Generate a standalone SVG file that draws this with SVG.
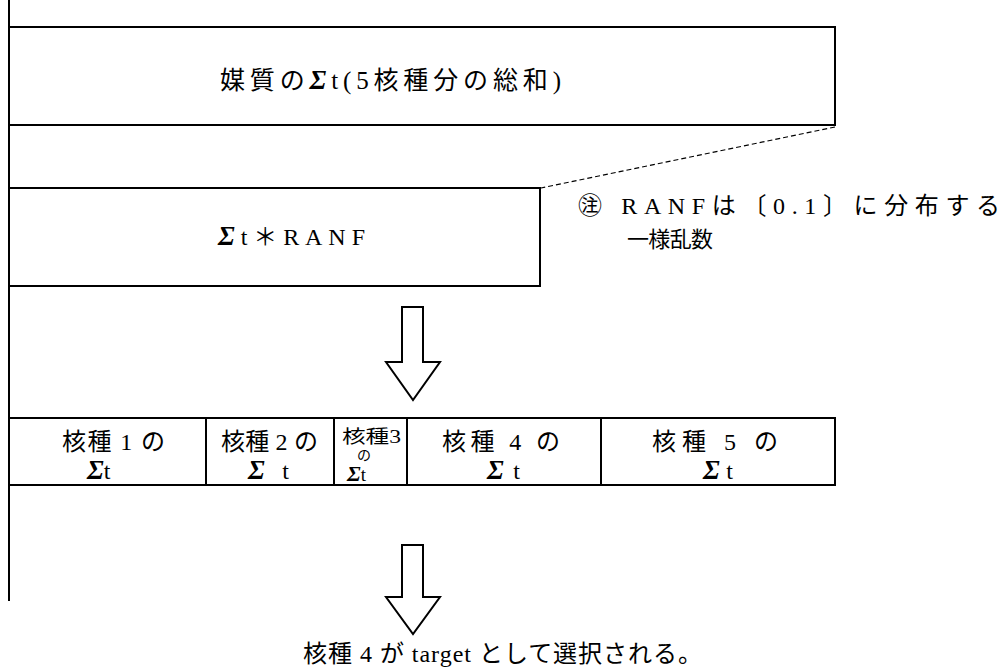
<svg xmlns="http://www.w3.org/2000/svg" width="1002" height="667" viewBox="0 0 1002 667">
<style>
.box{fill:none;stroke:#000;stroke-width:2}
.t{font-family:"Liberation Serif","Noto Sans CJK JP",serif;font-size:24px;fill:#000}
.s{font-style:italic;font-weight:bold;font-size:27px}
.arrow{fill:#fff;stroke:#000;stroke-width:2;stroke-linejoin:miter}
</style>
<rect width="1002" height="667" fill="#fff"/>
<g id="frame"><line x1="9" y1="0" x2="9" y2="601" stroke="#000" stroke-width="2"/></g>
<g id="total">
<rect class="box" x="9" y="27" width="826" height="98"/>
<text class="t" x="220" y="89" style="font-size:25px" textLength="341" lengthAdjust="spacing">媒質の<tspan class="s">Σ</tspan>t(5核種分の総和)</text>
</g>
<g id="ranf">
<rect class="box" x="9" y="188" width="531" height="98"/>
<text class="t" x="218" y="245" textLength="147" lengthAdjust="spacing"><tspan class="s">Σ</tspan>t＊RANF</text>
</g>
<g id="note">
<text class="t" x="578" y="214" textLength="422" lengthAdjust="spacing">㊟ RANFは〔0.1〕に分布する</text>
<text class="t" x="627" y="247" style="font-size:22px" textLength="86" lengthAdjust="spacing">一様乱数</text>
</g>
<g id="n1">
<rect class="box" x="9" y="418" width="197" height="67"/>
<text class="t" x="62" y="450" textLength="103" lengthAdjust="spacing">核種 1 の</text>
<text class="t" x="87" y="479"><tspan class="s">Σ</tspan>t</text>
</g>
<g id="n2">
<rect class="box" x="206" y="418" width="128" height="67"/>
<text class="t" x="221" y="450" textLength="97" lengthAdjust="spacing">核種 2 の</text>
<text class="t" x="248" y="479" textLength="41" lengthAdjust="spacing"><tspan class="s">Σ</tspan> t</text>
</g>
<g id="n3">
<rect class="box" x="334" y="418" width="73" height="67"/>
<text class="t" x="342" y="443" textLength="59" lengthAdjust="spacingAndGlyphs" style="font-size:18px">核種3</text>
<text class="t" x="357" y="460" style="font-size:14px">の</text>
<text class="t" x="347" y="481" style="font-size:19px"><tspan class="s" style="font-size:22px">Σ</tspan>t</text>
</g>
<g id="n4">
<rect class="box" x="407" y="418" width="194" height="67"/>
<text class="t" x="487" y="479" textLength="33" lengthAdjust="spacing"><tspan class="s">Σ</tspan> t</text>
<text class="t" x="442" y="450" textLength="118" lengthAdjust="spacing">核種 4 の</text>
</g>
<g id="n5">
<rect class="box" x="601" y="418" width="234" height="67"/>
<text class="t" x="652" y="450" textLength="126" lengthAdjust="spacing">核種 5 の</text>
<text class="t" x="703" y="479" textLength="30" lengthAdjust="spacing"><tspan class="s">Σ</tspan> t</text>
</g>
<g id="connectors">
<line x1="835" y1="127" x2="541" y2="188" stroke="#000" stroke-width="1.2" stroke-dasharray="5,3"/>
<polygon class="arrow" points="402,307 423,307 423,362 440,362 413,400 386,362 402,362"/>
<polygon class="arrow" points="402,545 423,545 423,597 440,597 413,634 386,597 402,597"/>
</g>
<g id="result">
<text class="t" x="303" y="662" textLength="399" lengthAdjust="spacing">核種 4 が target として選択される。</text>
</g>
</svg>
